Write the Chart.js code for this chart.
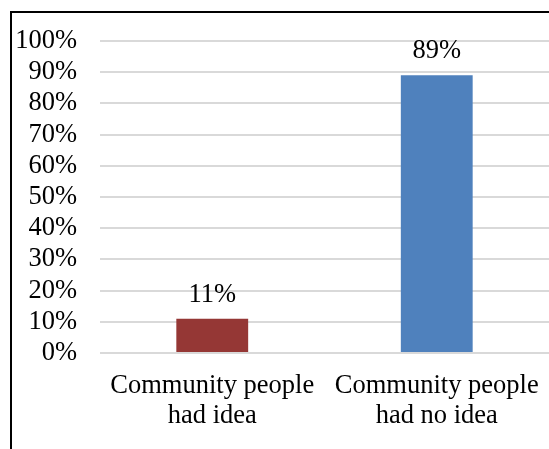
<!DOCTYPE html>
<html>
<head>
<meta charset="utf-8">
<script src="https://cdn.jsdelivr.net/npm/chart.js@4"></script>
<style>
  html, body { margin: 0; padding: 0; background: #fff; overflow: hidden; }
  #box { position: absolute; left: 0; top: 0; width: 549px; height: 449px; }
  #cornice { position: absolute; left: 10px; top: 11px; width: 700px; height: 600px;
             border-left: 2px solid #000; border-top: 2px solid #000; pointer-events: none; }
</style>
</head>
<body>
<div id="box"><canvas id="grafico" width="549" height="449"></canvas></div>
<div id="cornice"></div>
<script>
// dati del grafico
const categorie = [["Community people", "had idea"], ["Community people", "had no idea"]];
const valori = [11, 89];
const colori = ["#953735", "#4f81bd"];
const tacche = [0, 10, 20, 30, 40, 50, 60, 70, 80, 90, 100];

const carattere = { family: "'Liberation Serif', 'Times New Roman', serif", size: 26.5, lineHeight: 1.13 };

// etichette sopra le barre
const etichetteBarre = {
    id: "etichetteBarre",
    afterDatasetsDraw(chart) {
        const ctx = chart.ctx;
        const meta = chart.getDatasetMeta(0);
        ctx.save();
        ctx.font = carattere.size + "px " + carattere.family;
        ctx.fillStyle = "#000";
        ctx.textAlign = "center";
        ctx.textBaseline = "alphabetic";
        meta.data.forEach((barra, i) => {
            ctx.fillText(valori[i] + "%", barra.x, barra.y - 17);
        });
        ctx.restore();
    }
};

new Chart(document.getElementById("grafico"), {
    type: "bar",
    data: {
        labels: categorie,
        datasets: [{
            data: valori,
            backgroundColor: colori,
            borderWidth: 0,
            barPercentage: 0.32,
            categoryPercentage: 1
        }]
    },
    options: {
        responsive: false,
        animation: false,
        layout: { padding: { top: 41, left: 0, right: 0, bottom: 0 } },
        plugins: { legend: { display: false }, tooltip: { enabled: false } },
        scales: {
            x: {
                grid: { display: false, drawTicks: false },
                border: { display: false },
                ticks: { color: "#000", font: carattere, padding: 18, maxRotation: 0, autoSkip: false },
                afterFit: (s) => { s.height = 96; s.paddingLeft = 0; s.paddingRight = 0; }
            },
            y: {
                min: 0,
                max: 100,
                afterBuildTicks: (s) => { s.ticks = tacche.map(v => ({ value: v })); },
                ticks: { color: "#000", font: carattere, padding: 23, autoSkip: false, callback: (v) => v + "%" },
                grid: { color: "#d9d9d9", lineWidth: 2, drawTicks: false },
                border: { display: false },
                afterFit: (s) => { s.width = 100; }
            }
        }
    },
    plugins: [etichetteBarre]
});
</script>
</body>
</html>
